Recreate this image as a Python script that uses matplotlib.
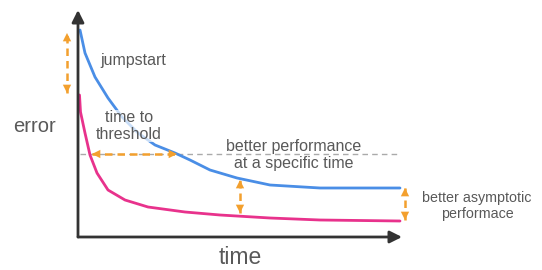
import matplotlib
matplotlib.use("Agg")
import matplotlib.pyplot as plt

plt.rcParams['font.family'] = ['Liberation Sans', 'DejaVu Sans']

# curves (time, error)
blue_t = [2, 7, 17, 30, 44, 60, 77, 97, 112, 132, 159, 192, 242, 282, 322]
blue_e = [207, 184, 160, 139, 120, 104, 92, 84, 77, 67, 59, 52, 49, 49, 49]
pink_t = [1.5, 2.5, 7, 12, 19, 30, 47, 70, 107, 142, 192, 242, 322]
pink_e = [142, 125, 104, 82, 64, 47, 37, 30, 25, 22, 19, 17, 16]

threshold = 83
threshold_span = (2, 322)
ttt_span = (14, 99)           # time to threshold arrow
jump_span = (144, 204)        # jumpstart arrow (error)
jump_t = -11
spec_t = 162                  # better performance at a specific time
spec_span = (24, 57)
asym_t = 327
asym_span = (17, 49)

BLUE = '#4a8ee6'
PINK = '#e8328c'
ORANGE = '#f3a02e'
GREY = '#595959'
AXC = '#333333'

W, H = 542, 270
fig = plt.figure(figsize=(W / 100, H / 100), dpi=100)
ax = fig.add_axes([78 / W, 1 - 237 / H, 324 / W, 227 / H])
ax.set_xlim(0, 324)
ax.set_ylim(0, 227)
for s in ax.spines.values():
    s.set_visible(False)
ax.set_xticks([])
ax.set_yticks([])

# axes with arrow heads
for tip in [(0, 1.0), (1.0, 0)]:
    ax.annotate('', xy=tip, xytext=(0, 0), xycoords='axes fraction',
                arrowprops=dict(arrowstyle='-|>', color=AXC, lw=2, mutation_scale=18,
                                shrinkA=0, shrinkB=0), annotation_clip=False)

ax.plot(threshold_span, [threshold, threshold], color='#aaaaaa', lw=1, ls=(0, (4, 3)), zorder=1)
ax.plot(blue_t, blue_e, color=BLUE, lw=2, solid_joinstyle='round', solid_capstyle='round', zorder=2)
ax.plot(pink_t, pink_e, color=PINK, lw=2, solid_joinstyle='round', solid_capstyle='round', zorder=2)


def double_arrow(p0, p1):
    ax.plot([p0[0], p1[0]], [p0[1], p1[1]], color=ORANGE, lw=1.8,
            ls=(0, (3, 2)), clip_on=False, zorder=4)
    ax.annotate('', xy=p1, xytext=p0,
                arrowprops=dict(arrowstyle='<|-|>', color=ORANGE, lw=0,
                                mutation_scale=15, shrinkA=0, shrinkB=0),
                annotation_clip=False, zorder=5)


double_arrow((ttt_span[0], threshold), (ttt_span[1], threshold))
double_arrow((jump_t, jump_span[0]), (jump_t, jump_span[1]))
double_arrow((spec_t, spec_span[0]), (spec_t, spec_span[1]))
double_arrow((asym_t, asym_span[0]), (asym_t, asym_span[1]))


def ptext(x, y, s, size, **kw):
    fig.text(x / W, 1 - y / H, s, fontsize=size, color=GREY,
             ha=kw.pop('ha', 'center'), va='center', **kw)


ptext(100, 60, 'jumpstart', 11.5, ha='left')
ptext(129, 126, 'time to\nthreshold', 11.5, linespacing=1.1,
      bbox=dict(facecolor='white', edgecolor='none', alpha=0.7, pad=0.5))
ptext(294, 155, 'better performance\nat a specific time', 11.5, linespacing=1.15)
ptext(477, 206, 'better asymptotic\nperformace', 10.3, linespacing=1.1)
ptext(34, 127, 'error', 14.5)
ptext(240, 258, 'time', 16.5)

fig.savefig('out.png', dpi=100)
